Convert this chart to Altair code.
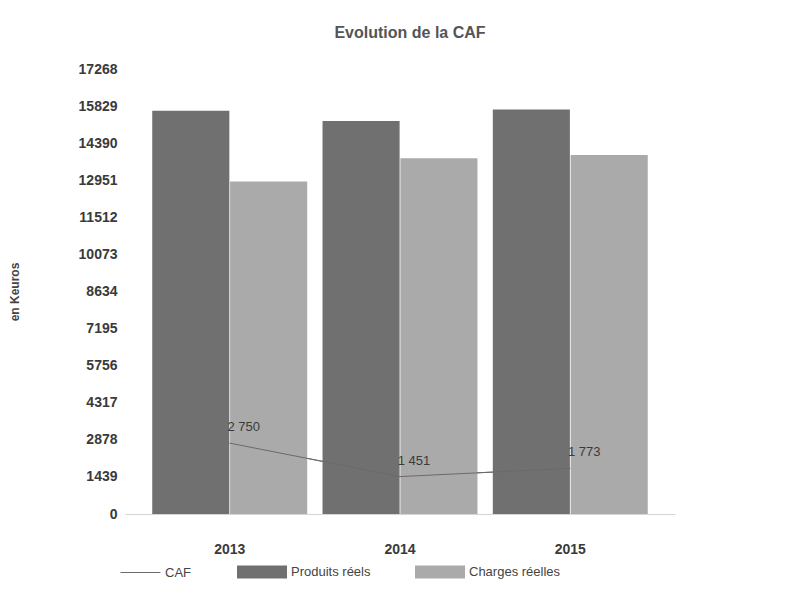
import altair as alt
import pandas as pd

# ---- data ----
years = ["2013", "2014", "2015"]
series_names = ["Produits réels", "Charges réelles"]
produits = [15650, 15250, 15700]
charges = [12900, 13800, 13930]
caf = [2750, 1451, 1773]
y_ticks = [0, 1439, 2878, 4317, 5756, 7195, 8634, 10073, 11512, 12951, 14390, 15829, 17268]

bars = pd.DataFrame(
    [{"year": y, "series": series_names[0], "value": v} for y, v in zip(years, produits)]
    + [{"year": y, "series": series_names[1], "value": v} for y, v in zip(years, charges)]
)
line = pd.DataFrame({
    "year": years,
    "value": caf,
    "name": ["CAF"] * len(years),
    "label": [f"{v:,}".replace(",", " ") for v in caf],
})

FONT = "Liberation Sans"
x_enc = alt.X("year:N", title=None,
              scale=alt.Scale(paddingInner=0.09, paddingOuter=0.16),
              axis=alt.Axis(labelAngle=0, labelFont=FONT, labelFontSize=14, labelFontWeight="bold",
                            labelColor="#3a3a3a", labelPadding=28, ticks=False,
                            domain=True, domainColor="#d5d5d5", domainWidth=1, grid=False))
y_scale = alt.Scale(domain=[0, y_ticks[-1]], nice=False)
y_enc = alt.Y("value:Q", scale=y_scale, title="en Keuros",
              axis=alt.Axis(values=y_ticks, format="d", labelFont=FONT, labelFontSize=14,
                            labelFontWeight="bold", labelColor="#3a3a3a", labelPadding=8,
                            labelOverlap=False, labelBound=False,
                            ticks=False, domain=False, grid=False,
                            titleFont=FONT, titleFontSize=12, titleFontWeight="bold",
                            titleColor="#444444", titlePadding=57))

caf_legend = alt.Legend(title=None, orient="none", legendX=-5, legendY=483,
                        direction="horizontal",
                        symbolType="stroke", symbolSize=1600, symbolStrokeWidth=1,
                        labelFont=FONT, labelFontSize=13, labelColor="#444444")
caf_scale = alt.Scale(domain=["CAF"], range=["#6a6a6a"])

# first layer only carries the CAF legend so that it comes first in the legend row
caf_legend_layer = alt.Chart(line).mark_line(strokeWidth=1).encode(
    x=x_enc,
    y=y_enc,
    color=alt.Color("name:N", scale=caf_scale, legend=caf_legend),
)

bar_layer = alt.Chart(bars).mark_bar().encode(
    x=x_enc,
    xOffset=alt.XOffset("series:N", sort=series_names, scale=alt.Scale(paddingInner=0.01)),
    y=y_enc,
    fill=alt.Fill("series:N", sort=series_names,
                  scale=alt.Scale(domain=series_names, range=["#707070", "#aaaaaa"]),
                  legend=alt.Legend(title=None, orient="none", legendX=112, legendY=478,
                                    direction="horizontal",
                                    symbolType="M-1,-0.26H1V0.26H-1Z", symbolSize=2500,
                                    symbolStrokeWidth=0, labelFont=FONT, labelFontSize=13,
                                    labelColor="#444444", columnPadding=44)),
)

line_layer = alt.Chart(line).mark_line(strokeWidth=1).encode(
    x=x_enc,
    y=y_enc,
    color=alt.Color("name:N", scale=caf_scale, legend=None),
)

text_layer = alt.Chart(line).mark_text(font=FONT, fontSize=13, color="#3a3a3a",
                                       dx=14, dy=-16).encode(
    x=x_enc,
    y=y_enc,
    text="label:N",
)

chart = alt.layer(caf_legend_layer, bar_layer, line_layer, text_layer).properties(
    width=550, height=445,
    background="#ffffff",
    title=alt.TitleParams("Evolution de la CAF", font=FONT, fontSize=16, fontWeight="bold",
                          color="#555555", anchor="middle", offset=21, dx=10),
    padding={"left": 0, "top": 17, "right": 5, "bottom": 5},
).configure_view(stroke=None)

chart.save("out.html", embed_options={"renderer": "svg", "actions": False})
